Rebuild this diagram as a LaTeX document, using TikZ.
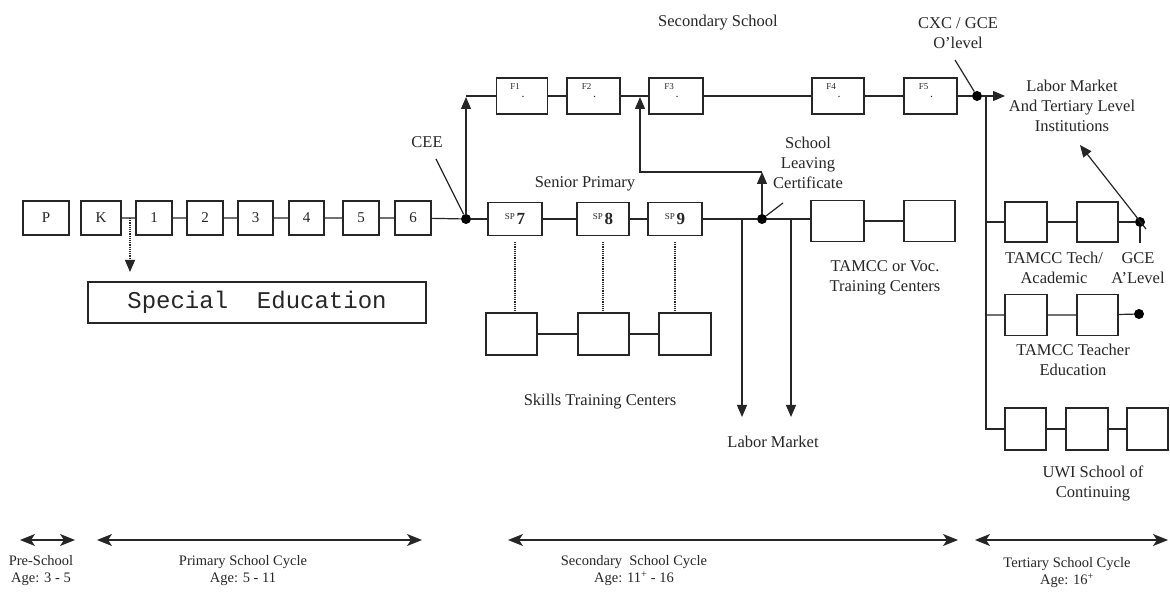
\documentclass[tikz,border=0pt]{standalone}
\usepackage{fontspec}
\setmainfont{Liberation Serif}
\newfontfamily\monofam{Liberation Mono}
\usetikzlibrary{arrows.meta,calc}
\newcommand\lblf{\fontsize{16.5}{20}\selectfont}
\newcommand\botf{\fontsize{14.5}{17}\selectfont}
\newcommand\bxf{\fontsize{15}{15}\selectfont}
\newcommand\tinyf{\fontsize{9}{9}\selectfont}
\newcommand\spl[1]{{\tinyf\raisebox{5pt}{SP}}\,{\fontsize{17}{17}\selectfont\bfseries #1}}
\begin{document}
\begin{tikzpicture}[x=1pt,y=-1pt,
  every node/.style={inner sep=0pt, text=black!85},
  ln/.style={draw=black!85, line width=1.2pt},
  bx/.style={draw=black!85, line width=1.2pt, minimum height=34pt},
  bxb/.style={draw=black!85, line width=1.2pt, minimum height=41pt},
  dot/.style={circle, fill=black, minimum size=10pt},
  txt/.style={align=center, font=\lblf},
  btxt/.style={align=center, font=\botf},
  tipup/.style={-{Triangle[length=12pt,width=10pt]}},
  dbl/.style={{Stealth[length=15pt,width=12pt,inset=4pt]}-{Stealth[length=15pt,width=12pt,inset=4pt]}, line width=1.4pt, draw=black!85}]
\useasboundingbox[fill=white] (0,0) rectangle (1170,593);

% ---- primary row
\node[bx,minimum width=46pt] (P) at (46,218) {\bxf P};
\node[bx,minimum width=40pt] (K) at (101,218) {\bxf K};
\node[bx,minimum width=36pt] (n1) at (154,218) {\bxf 1};
\node[bx,minimum width=36pt] (n2) at (205,218) {\bxf 2};
\node[bx,minimum width=35pt] (n3) at (255.5,218) {\bxf 3};
\node[bx,minimum width=35pt] (n4) at (306.5,218) {\bxf 4};
\node[bx,minimum width=36pt] (n5) at (361,218) {\bxf 5};
\node[bx,minimum width=36pt] (n6) at (413,218) {\bxf 6};
\node[dot] (dCEE) at (466,219) {};

\node[draw=black!85, line width=1.2pt, minimum width=338pt, minimum height=41pt] (sed) at (257,302.5)
  {\monofam\fontsize{24}{24}\selectfont Special\ \ Education};
\coordinate (sedA) at (130,218);
\coordinate (sedB) at (130,272);
\draw[ln, densely dotted, tipup] (sedA) -- (sedB);

\draw[ln] (K) -- (n1) -- (n2) -- (n3) -- (n4) -- (n5) -- (n6) -- (dCEE);

% ---- senior primary row
\node[bx,minimum width=54pt,minimum height=33pt] (SP7) at (515,219) {\spl{7}};
\node[bx,minimum width=52pt,minimum height=33pt] (SP8) at (603,219) {\spl{8}};
\node[bx,minimum width=54pt,minimum height=33pt] (SP9) at (675,219) {\spl{9}};
\node[dot] (dSLC) at (762,219) {};
\node[bxb,minimum width=53pt] (tv1) at (837.5,221) {};
\node[bxb,minimum width=51pt] (tv2) at (929.5,221) {};
\draw[ln] (dCEE) -- (SP7) -- (SP8) -- (SP9) -- (dSLC);
\draw[ln] (dSLC) -- (dSLC -| tv1.west);
\draw[ln] (tv1) -- (tv2);

% skills training
\node[bxb,minimum width=51pt,minimum height=42pt] (sk1) at (511.5,334) {};
\node[bxb,minimum width=51pt,minimum height=42pt] (sk2) at (603.5,334) {};
\node[bxb,minimum width=52pt,minimum height=42pt] (sk3) at (685,334) {};
\draw[ln] (sk1) -- (sk2) -- (sk3);
\draw[ln, densely dotted] ([yshift=-6pt]SP7.south) -- (SP7.south |- sk1.north);
\draw[ln, densely dotted] ([yshift=-6pt]SP8.south) -- (SP8.south |- sk2.north);
\draw[ln, densely dotted] ([yshift=-6pt]SP9.south) -- (SP9.south |- sk3.north);

% labor market arrows
\coordinate (lmA0) at (742,219);
\coordinate (lmA1) at (742,417);
\coordinate (lmB0) at (791,219);
\coordinate (lmB1) at (791,417);
\draw[ln,tipup] (lmA0) -- (lmA1);
\draw[ln,tipup] (lmB0) -- (lmB1);

% ---- secondary row
\node[bx,minimum width=51pt,minimum height=36pt] (F1) at (522,96) {};
\node[bx,minimum width=53pt,minimum height=36pt] (F2) at (593.5,96) {};
\node[bx,minimum width=54pt,minimum height=36pt] (F3) at (676,96) {};
\node[bx,minimum width=52pt,minimum height=36pt] (F4) at (838,96) {};
\node[bx,minimum width=53pt,minimum height=36pt] (F5) at (930.5,96) {};
\foreach \f/\t in {F1/F1,F2/F2,F3/F3,F4/F4,F5/F5}{
  \node[font=\tinyf] (\f lab) at ($(\f.center)+(-7,-9)$) {\t};
  \node[font=\fontsize{12}{12}\selectfont] (\f dot) at ($(\f.center)+(1,1)$) {.};
}
\node[dot] (dO) at (977,96) {};
\coordinate (lmt) at (1005,96);
\draw[ln] (F1) -- (F2) -- (F3) -- (F4) -- (F5) -- (dO);
\draw[ln,tipup] (dO) -- (lmt);

% CEE arrow
\coordinate (cF) at (466,97);
\draw[ln,tipup] (dCEE) -- (cF);
\draw[ln] (466,96) -- (F1);

% SLC arrows
\coordinate (s1) at (762,172);
\coordinate (s2) at (640,172);
\coordinate (s3) at (640,97);
\draw[ln,tipup] (dSLC) -- (s1);
\draw[ln,tipup] (s1) -- (s2) -- (s3);

% pointers
\coordinate (pCEE) at (436,159);
\coordinate (pSLC) at (783,203);
\coordinate (pO) at (955,60);
\draw[ln] (pCEE) -- (dCEE);
\draw[ln] (pSLC) -- (dSLC);
\draw[ln] (pO) -- (dO);

% ---- tertiary
\coordinate (t0) at (986,96);
\coordinate (t1) at (986,222);
\coordinate (t2) at (986,315);
\coordinate (t3) at (986,429);
\node[bx,minimum width=42pt,minimum height=40pt] (tt1) at (1026,222) {};
\node[bx,minimum width=41pt,minimum height=40pt] (tt2) at (1097.5,222) {};
\node[dot] (dA) at (1140,222) {};
\node[bx,minimum width=42pt,minimum height=41pt] (te1) at (1026,315) {};
\node[bx,minimum width=41pt,minimum height=41pt] (te2) at (1097.5,315) {};
\node[dot] (dT) at (1139,314) {};
\node[bx,minimum width=41pt,minimum height=42pt] (u1) at (1025.5,429) {};
\node[bx,minimum width=42pt,minimum height=42pt] (u2) at (1087,429) {};
\node[bx,minimum width=41pt,minimum height=42pt] (u3) at (1147.5,429) {};
\draw[ln] (t0) -- (t3) -- (u1) -- (u2) -- (u3);
\draw[ln] (t1) -- (tt1) -- (tt2) -- (dA);
\draw[ln] (t2) -- (te1) -- (te2) -- (dT);
\coordinate (aA0) at (1146,229);
\coordinate (aA1) at (1080,145);
\coordinate (aS) at (1140,243);
\draw[ln,tipup] (aA0) -- (aA1);
\draw[ln] (dA) -- (aS);

% ---- labels
\node[txt] (lCEE) at (427,142) {CEE};
\node[txt] (lSenP) at (585,184) {Senior Primary};
\node[txt] (lSecS) at (718,23) {Secondary School};
\node[txt] (lCXC) at (958,33) {CXC / GCE\\O'level};
\node[txt] (lSLC) at (808,163) {School\\Leaving\\Certificate};
\node[txt] (lTV) at (885,278) {TAMCC or Voc.\\Training Centers};
\node[txt] (lSk) at (600,402) {Skills Training Centers};
\node[txt] (lLM) at (773,442) {Labor Market};
\node[txt] (lLMT) at (1072,106) {Labor Market\\And Tertiary Level\\Institutions};
\node[txt] (lTT) at (1054,268) {TAMCC Tech/\\Academic};
\node[txt] (lGCE) at (1138,268) {GCE\\A'Level};
\node[txt] (lTE) at (1073,360) {TAMCC Teacher\\Education};
\node[txt] (lUWI) at (1093,483) {UWI School of\\Continuing};

% ---- bottom cycles
\coordinate (b1a) at (20,540);
\coordinate (b1b) at (75,540);
\coordinate (b2a) at (97,540);
\coordinate (b2b) at (422,540);
\coordinate (b3a) at (508,540);
\coordinate (b3b) at (958,540);
\coordinate (b4a) at (975,540);
\coordinate (b4b) at (1168,540);
\draw[dbl] (b1a) -- (b1b);
\draw[dbl] (b2a) -- (b2b);
\draw[dbl] (b3a) -- (b3b);
\draw[dbl] (b4a) -- (b4b);
\node[btxt] (cy1) at (41,571) {Pre-School\\Age: 3 - 5};
\node[btxt] (cy2) at (243,571) {Primary School Cycle\\Age: 5 - 11};
\node[btxt] (cy3) at (634,571) {Secondary\ \ School Cycle\\Age: 11\textsuperscript{+} - 16};
\node[btxt] (cy4) at (1067,573) {Tertiary School Cycle\\Age: 16\textsuperscript{+}};
\end{tikzpicture}
\end{document}
